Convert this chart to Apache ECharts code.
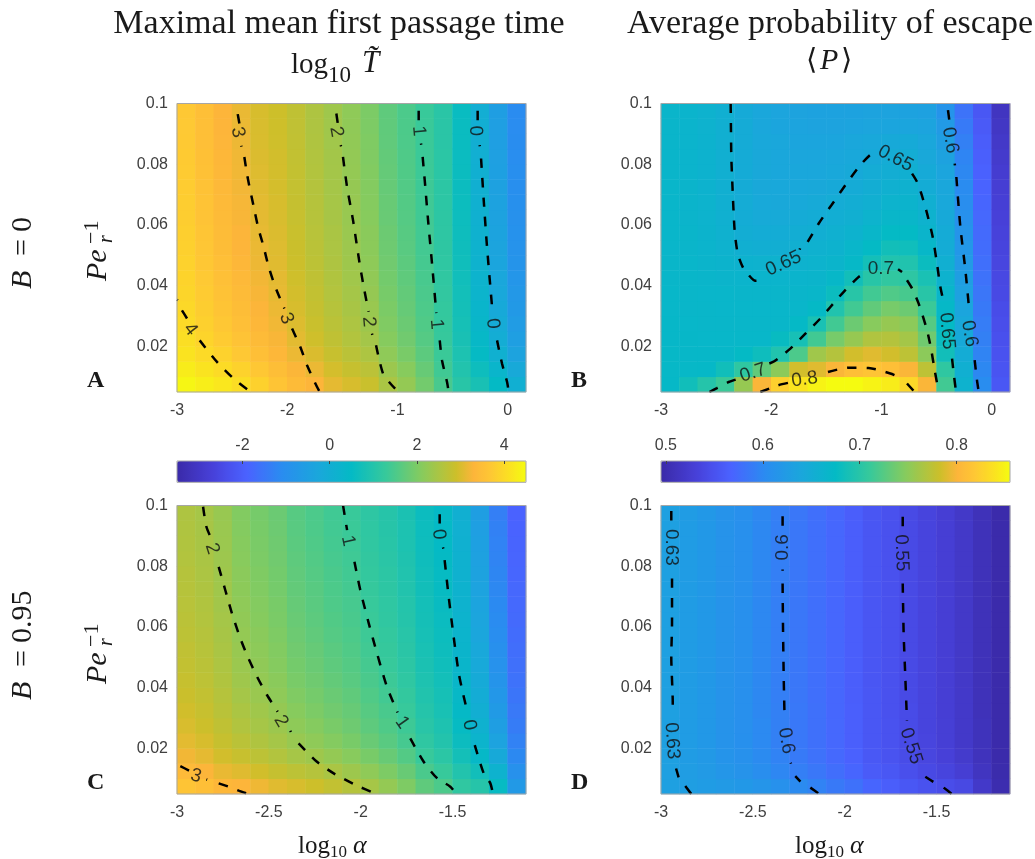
<!DOCTYPE html>
<html><head><meta charset="utf-8">
<style>html,body{margin:0;padding:0;background:#fff}#c{width:1035px;height:859px}</style>
<script src="https://cdn.jsdelivr.net/npm/echarts@6/dist/echarts.min.js"></script></head>
<body><div id="c"></div>
<script>
// Values. Rows run bottom to top, columns left to right.
const valuesA=[
[4.42,4.3,4.2,4.05,3.85,3.62,3.42,3.3,3.1,2.98,2.86,2.5,2.26,1.9,1.46,1.06,.82,.5,.05],
[4.28,4.14,4.02,3.87,3.68,3.48,3.28,3.15,2.96,2.82,2.69,2.34,2.11,1.78,1.38,.96,.66,.29,-.18],
[4.15,4,3.86,3.7,3.52,3.35,3.16,3.01,2.83,2.68,2.53,2.2,1.97,1.67,1.32,.88,.51,.1,-.39],
[4.06,3.9,3.75,3.6,3.42,3.26,3.08,2.92,2.74,2.59,2.43,2.1,1.88,1.6,1.27,.82,.41,-.03,-.53],
[4,3.84,3.68,3.52,3.35,3.2,3.03,2.86,2.68,2.53,2.36,2.04,1.82,1.55,1.24,.78,.34,-.11,-.62],
[3.96,3.79,3.62,3.47,3.29,3.16,2.98,2.81,2.64,2.48,2.31,1.99,1.77,1.52,1.22,.75,.3,-.17,-.69],
[3.92,3.75,3.58,3.42,3.25,3.12,2.95,2.78,2.6,2.44,2.27,1.95,1.74,1.49,1.2,.73,.25,-.22,-.74],
[3.89,3.71,3.53,3.38,3.21,3.09,2.92,2.74,2.57,2.4,2.22,1.91,1.7,1.46,1.18,.7,.21,-.28,-.8],
[3.86,3.68,3.5,3.34,3.17,3.06,2.89,2.71,2.54,2.37,2.19,1.88,1.67,1.43,1.16,.69,.18,-.32,-.85],
[3.84,3.65,3.47,3.31,3.15,3.04,2.87,2.68,2.52,2.35,2.16,1.85,1.64,1.41,1.15,.67,.16,-.35,-.88],
[3.82,3.63,3.44,3.29,3.12,3.02,2.85,2.66,2.5,2.32,2.14,1.83,1.62,1.4,1.14,.66,.13,-.38,-.92],
[3.79,3.6,3.42,3.26,3.09,2.99,2.83,2.64,2.47,2.3,2.11,1.8,1.6,1.38,1.13,.64,.11,-.41,-.95],
[3.78,3.59,3.4,3.24,3.08,2.98,2.81,2.62,2.46,2.29,2.09,1.79,1.58,1.37,1.12,.63,.09,-.43,-.97],
[3.76,3.57,3.38,3.22,3.06,2.96,2.8,2.61,2.44,2.27,2.08,1.77,1.57,1.35,1.11,.62,.07,-.46,-1],
[3.75,3.56,3.36,3.2,3.04,2.95,2.79,2.59,2.43,2.25,2.06,1.76,1.55,1.34,1.1,.61,.06,-.48,-1.02],
[3.74,3.54,3.35,3.19,3.02,2.94,2.77,2.58,2.42,2.24,2.04,1.74,1.54,1.33,1.1,.6,.04,-.5,-1.04],
[3.72,3.52,3.33,3.17,3,2.92,2.76,2.56,2.4,2.22,2.03,1.72,1.52,1.32,1.09,.59,.02,-.52,-1.07],
[3.71,3.51,3.31,3.15,2.99,2.91,2.75,2.55,2.39,2.21,2.01,1.71,1.51,1.31,1.09,.59,.01,-.53,-1.08],
[3.7,3.5,3.3,3.14,2.98,2.9,2.74,2.54,2.38,2.2,2,1.7,1.5,1.3,1.08,.58,0,-.55,-1.1]];
const valuesB=[
[.672,.684,.698,.712,.755,.8,.825,.84,.85,.855,.855,.85,.845,.83,.8,.715,.66,.605,.555],
[.671,.671,.672,.684,.705,.73,.75,.785,.79,.8,.81,.815,.81,.8,.775,.705,.655,.6,.552],
[.671,.67,.67,.67,.675,.682,.695,.72,.76,.77,.785,.79,.785,.775,.75,.685,.65,.596,.55],
[.67,.67,.669,.669,.669,.669,.678,.688,.715,.74,.755,.768,.77,.762,.737,.68,.645,.593,.548],
[.67,.669,.668,.668,.668,.668,.668,.673,.69,.715,.735,.748,.755,.75,.725,.675,.642,.59,.546],
[.669,.668,.668,.667,.667,.667,.667,.667,.673,.695,.715,.73,.74,.735,.712,.672,.638,.587,.544],
[.669,.668,.667,.667,.666,.666,.666,.666,.668,.68,.7,.715,.722,.718,.7,.668,.632,.584,.541],
[.668,.668,.666,.665,.664,.664,.664,.664,.665,.67,.685,.7,.706,.704,.69,.66,.628,.581,.539],
[.668,.667,.665,.663,.661,.66,.66,.66,.662,.665,.672,.686,.695,.695,.68,.655,.622,.578,.537],
[.667,.666,.664,.66,.656,.654,.654,.656,.658,.661,.667,.675,.685,.683,.67,.65,.618,.576,.535],
[.667,.666,.663,.658,.652,.65,.65,.652,.654,.657,.661,.668,.675,.675,.665,.648,.614,.574,.533],
[.667,.665,.662,.657,.65,.646,.646,.648,.65,.653,.656,.662,.668,.668,.66,.645,.61,.572,.531],
[.667,.665,.662,.656,.649,.644,.643,.644,.646,.649,.652,.656,.662,.663,.655,.642,.606,.57,.529],
[.667,.665,.661,.656,.648,.643,.642,.642,.643,.645,.648,.652,.657,.659,.65,.64,.603,.568,.527],
[.666,.664,.661,.655,.648,.643,.641,.64,.641,.642,.645,.649,.652,.655,.647,.637,.6,.566,.525],
[.666,.664,.661,.655,.648,.643,.64,.639,.639,.64,.642,.645,.649,.651,.643,.633,.597,.564,.522],
[.666,.664,.661,.655,.648,.642,.64,.638,.638,.638,.64,.642,.645,.647,.64,.628,.593,.562,.519],
[.666,.664,.66,.655,.648,.641,.638,.636,.635,.635,.636,.637,.638,.638,.636,.622,.588,.559,.516],
[.666,.664,.66,.655,.647,.64,.637,.635,.634,.634,.634,.635,.635,.634,.632,.614,.582,.555,.513]];
const valuesC=[
[3.62,3.5,3.34,3.3,3.18,3.06,2.98,2.9,2.78,2.62,2.46,2.26,2.02,1.7,1.5,1.18,1.02,.54,-.7],
[3.4,3.29,3.13,3.05,2.93,2.81,2.71,2.62,2.5,2.36,2.2,2.01,1.79,1.48,1.29,.96,.71,.16,-.94],
[3.21,3.1,2.94,2.83,2.71,2.59,2.46,2.37,2.25,2.12,1.96,1.79,1.58,1.29,1.1,.75,.43,-.17,-1.16],
[3.08,2.98,2.82,2.68,2.56,2.44,2.3,2.2,2.08,1.96,1.8,1.64,1.44,1.16,.98,.62,.24,-.4,-1.3],
[2.99,2.89,2.74,2.58,2.46,2.34,2.19,2.09,1.97,1.85,1.69,1.54,1.35,1.07,.9,.53,.12,-.55,-1.4],
[2.93,2.83,2.67,2.51,2.39,2.27,2.11,2,1.88,1.78,1.62,1.47,1.28,1.01,.83,.46,.02,-.66,-1.47],
[2.87,2.78,2.62,2.44,2.32,2.2,2.04,1.93,1.81,1.71,1.55,1.4,1.22,.95,.78,.41,-.06,-.76,-1.53],
[2.82,2.72,2.57,2.38,2.26,2.14,1.97,1.86,1.74,1.64,1.48,1.34,1.16,.9,.73,.35,-.13,-.85,-1.59],
[2.78,2.68,2.53,2.33,2.21,2.09,1.92,1.81,1.69,1.59,1.43,1.29,1.12,.86,.69,.31,-.2,-.93,-1.64],
[2.75,2.65,2.5,2.3,2.18,2.06,1.88,1.77,1.65,1.55,1.39,1.26,1.08,.83,.66,.27,-.24,-.98,-1.67],
[2.71,2.62,2.47,2.26,2.14,2.02,1.84,1.72,1.6,1.51,1.35,1.22,1.05,.79,.63,.24,-.29,-1.04,-1.71],
[2.68,2.59,2.44,2.22,2.1,1.98,1.8,1.68,1.56,1.47,1.31,1.18,1.01,.76,.6,.21,-.34,-1.1,-1.74],
[2.66,2.57,2.41,2.2,2.08,1.96,1.77,1.65,1.53,1.45,1.29,1.16,.99,.74,.57,.18,-.37,-1.13,-1.77],
[2.64,2.54,2.39,2.17,2.05,1.93,1.74,1.63,1.51,1.42,1.26,1.13,.96,.72,.55,.16,-.4,-1.17,-1.79],
[2.62,2.52,2.37,2.15,2.03,1.91,1.72,1.6,1.48,1.39,1.23,1.11,.94,.7,.53,.14,-.43,-1.21,-1.82],
[2.59,2.5,2.35,2.12,2,1.88,1.69,1.57,1.45,1.37,1.21,1.08,.92,.67,.51,.12,-.46,-1.25,-1.84],
[2.57,2.48,2.33,2.1,1.98,1.86,1.66,1.54,1.42,1.34,1.18,1.06,.89,.65,.49,.09,-.49,-1.28,-1.86],
[2.56,2.47,2.32,2.08,1.96,1.84,1.64,1.52,1.4,1.32,1.16,1.04,.88,.64,.48,.08,-.52,-1.31,-1.88],
[2.54,2.45,2.3,2.06,1.94,1.82,1.62,1.5,1.38,1.3,1.14,1.02,.86,.62,.46,.06,-.54,-1.34,-1.9]];
const valuesD=[
[.63,.628,.625,.622,.62,.615,.61,.602,.595,.587,.58,.57,.563,.555,.55,.545,.54,.52,.5],
[.63,.626,.622,.617,.613,.606,.599,.592,.585,.577,.57,.56,.555,.547,.541,.535,.527,.513,.498],
[.63,.625,.621,.614,.61,.602,.595,.588,.581,.573,.566,.556,.551,.544,.537,.531,.522,.51,.497],
[.63,.625,.62,.613,.609,.601,.593,.586,.579,.572,.564,.555,.55,.543,.536,.529,.52,.509,.497],
[.63,.625,.62,.613,.608,.601,.593,.586,.579,.572,.564,.555,.55,.543,.535,.529,.52,.509,.497],
[.63,.625,.62,.613,.608,.6,.593,.586,.579,.571,.564,.555,.549,.543,.535,.528,.52,.508,.497],
[.63,.625,.62,.613,.608,.6,.592,.585,.578,.571,.563,.555,.549,.542,.535,.528,.52,.508,.497],
[.63,.625,.62,.613,.608,.6,.592,.585,.578,.571,.563,.554,.549,.542,.535,.528,.519,.508,.497],
[.63,.625,.62,.613,.608,.6,.592,.585,.578,.571,.563,.554,.549,.542,.535,.528,.519,.508,.497],
[.63,.625,.62,.613,.608,.6,.592,.585,.578,.571,.563,.554,.549,.542,.535,.528,.519,.508,.497],
[.63,.625,.62,.613,.608,.6,.592,.585,.578,.571,.563,.554,.549,.542,.535,.528,.519,.508,.497],
[.63,.625,.62,.613,.608,.6,.592,.585,.578,.571,.563,.554,.549,.542,.535,.528,.519,.508,.497],
[.63,.625,.62,.613,.608,.6,.592,.585,.578,.571,.563,.554,.549,.542,.535,.528,.519,.508,.497],
[.63,.625,.62,.613,.608,.6,.592,.585,.578,.571,.563,.554,.549,.542,.535,.528,.519,.508,.497],
[.63,.625,.62,.613,.608,.6,.592,.585,.578,.571,.563,.554,.549,.542,.535,.528,.519,.508,.497],
[.63,.625,.62,.613,.608,.6,.592,.585,.578,.571,.563,.554,.549,.542,.535,.528,.519,.508,.497],
[.63,.625,.62,.613,.608,.6,.592,.585,.578,.571,.563,.554,.549,.542,.535,.528,.519,.508,.497],
[.63,.625,.62,.613,.608,.6,.592,.585,.578,.571,.563,.554,.549,.542,.535,.528,.519,.508,.497],
[.63,.625,.62,.613,.608,.6,.592,.585,.578,.571,.563,.554,.549,.542,.535,.528,.519,.508,.497]];

// Contour levels: each level is a list of dashed runs broken around its labels.
const contoursA=[
 [[[-2.449,.0965],[-2.434,.0934]],[[-2.416,.0861],[-2.414,.0858]],[[-2.389,.0824],[-2.359,.0756],[-2.304,.066],[-2.265,.0594],[-2.214,.0528],[-2.168,.0462],[-2.108,.0396],[-2.026,.0325]],[[-1.956,.0259],[-1.881,.0198],[-1.82,.0138],[-1.73,.0067],[-1.705,.005]]],
 [[[-1.554,.0967],[-1.542,.0936]],[[-1.515,.0863],[-1.511,.0859]],[[-1.494,.0824],[-1.457,.0725],[-1.403,.0616],[-1.345,.0478],[-1.3,.0385],[-1.261,.0314]],[[-1.231,.0242],[-1.227,.0238]],[[-1.194,.0204],[-1.131,.0111],[-1.064,.0078],[-.989,.005]]],
 [[[-.807,.0976],[-.807,.094]],[[-.786,.0868],[-.784,.0864]],[[-.771,.0824],[-.747,.0725],[-.722,.0616],[-.686,.0473],[-.647,.031]],[[-.616,.022],[-.595,.0154],[-.55,.0083],[-.535,.005]]],
 [[[-.272,.0976],[-.272,.0945]],[[-.254,.0863],[-.252,.0859]],[[-.241,.0819],[-.217,.0682],[-.187,.0528],[-.136,.0308]],[[-.096,.022],[-.051,.0144],[-.005,.0083],[.01,.005]]],
 [[[-3,.0354],[-2.992,.0352]],[[-2.955,.0319],[-2.909,.0292]],[[-2.794,.022],[-2.637,.0149],[-2.486,.0094],[-2.329,.005]]]];
const labelsA=[[-2.449,.0905,'3',-78],[-2.008,.0292,'3',-68],[-1.554,.0907,'2',-80],[-1.261,.0281,'2',-85],[-.807,.0909,'1',-85],[-.647,.0273,'1',-85],[-.293,.091,'0',-88],[-.136,.0275,'0',-85],[-2.879,.0256,'4',-52]];
const contoursB=[
 [[[-2.368,.1],[-2.365,.0912],[-2.362,.0824],[-2.35,.0714],[-2.332,.0583],[-2.304,.0506],[-2.259,.0462],[-2.204,.0435],[-2.144,.0416],[-2.059,.042]],[[-1.742,.0519],[-1.738,.0523]],[[-1.669,.0544],[-1.569,.0605],[-1.454,.0665],[-1.327,.0731],[-1.206,.0791],[-1.11,.0828],[-1.04,.0843]],[[-.722,.0769],[-.677,.0742],[-.638,.0703],[-.586,.0638],[-.535,.0561],[-.496,.0473],[-.465,.0396],[-.429,.0336]],[[-.359,.016],[-.344,.0111],[-.323,.005]]],
 [[[-.396,.0978],[-.384,.0945]],[[-.335,.0802],[-.333,.0796]],[[-.32,.0758],[-.284,.0594],[-.238,.0451],[-.202,.0314]],[[-.154,.0155],[-.133,.0089],[-.117,.005]]],
 [[[-2.561,.005],[-2.492,.0063],[-2.386,.0083],[-2.295,.0094]],[[-2.017,.0144],[-1.972,.0151],[-1.826,.0193],[-1.69,.0242],[-1.554,.0292],[-1.463,.033],[-1.342,.038],[-1.206,.0429],[-1.146,.0442]],[[-.849,.0454],[-.813,.0445]],[[-.768,.0418],[-.722,.0391],[-.662,.0341],[-.586,.0253],[-.547,.0187],[-.517,.0122],[-.48,.005]]],
 [[[-2.099,.005],[-1.938,.0072],[-1.848,.008]],[[-1.485,.0116],[-1.297,.013],[-1.116,.0129],[-.919,.0111],[-.828,.0097]],[[-.768,.0078],[-.698,.005]]]];
const labelsB=[[-1.887,.0473,'0.65',25],[-.873,.0819,'0.65',-28],[-.405,.0251,'0.65',-85],[-.375,.0879,'0.6',-80],[-.202,.0242,'0.6',-80],[-2.165,.0113,'0.7',18],[-1.004,.0456,'0.7',0],[-1.696,.0091,'0.8',8]];
const contoursC=[
 [[[-2.858,.0996],[-2.84,.093],[-2.813,.0891]],[[-2.773,.0798],[-2.737,.0721],[-2.701,.0645],[-2.655,.0562],[-2.615,.0502],[-2.564,.0436],[-2.51,.0376],[-2.452,.0321]],[[-2.383,.0258],[-2.38,.0254]],[[-2.338,.0217],[-2.238,.0156],[-2.147,.0118],[-2.029,.008],[-1.915,.005]]],
 [[[-2.096,.1],[-2.074,.0919]],[[-2.047,.085],[-2.046,.0848]],[[-2.034,.0815],[-2.002,.0721],[-1.956,.0612],[-1.911,.0513],[-1.857,.0403],[-1.799,.0318]],[[-1.73,.0233],[-1.657,.0156],[-1.584,.0102],[-1.512,.0074],[-1.479,.005]]],
 [[[-1.57,.0971],[-1.57,.0941]],[[-1.552,.0862],[-1.55,.0858]],[[-1.543,.082],[-1.521,.07],[-1.494,.0568],[-1.466,.0447],[-1.443,.0381],[-1.416,.0313]],[[-1.379,.0211],[-1.33,.0118],[-1.294,.0085],[-1.28,.005]]],
 [[[-2.982,.0142],[-2.931,.0126]],[[-2.84,.0098],[-2.836,.0097]],[[-2.773,.0085],[-2.719,.0074],[-2.664,.0061],[-2.613,.005]]]];
const labelsC=[[-2.809,.0858,'2',-72],[-2.434,.029,'2',-60],[-2.069,.0884,'1',-78],[-1.775,.0285,'1',-55],[-1.575,.0905,'0',-85],[-1.408,.0277,'0',-80],[-2.897,.0109,'3',-15]];
const contoursD=[
 [[[-2.944,.0982],[-2.944,.0946]],[[-2.94,.076],[-2.94,.0612],[-2.944,.0502],[-2.936,.0348],[-2.936,.0313]],[[-2.918,.0134],[-2.904,.0105]],[[-2.868,.0076],[-2.835,.005]]],
 [[[-2.338,.0965],[-2.338,.0932]],[[-2.338,.0789],[-2.338,.0785]],[[-2.338,.0743],[-2.336,.0612],[-2.332,.0436],[-2.327,.0293]],[[-2.294,.0153],[-2.292,.015]],[[-2.269,.0109],[-2.241,.0091]],[[-2.187,.0071],[-2.138,.005]]],
 [[[-1.684,.0963],[-1.684,.093]],[[-1.684,.0743],[-1.679,.0579],[-1.67,.0436],[-1.661,.0291]],[[-1.561,.0107],[-1.51,.0087]],[[-1.461,.0071],[-1.416,.005]]]];
const labelsD=[[-2.946,.0862,'0.63',-90],[-2.94,.0225,'0.63',-86],[-2.338,.0862,'0.6',90],[-2.319,.0225,'0.6',-80],[-1.691,.0844,'0.55',-88],[-1.639,.0208,'0.55',-72]];

const yTicks=[0.02,0.04,0.06,0.08,0.1];
const xTicksTop=[-3,-2,-1,0];
const xTicksBottom=[-3,-2.5,-2,-1.5];
const barTicksT=[-2,0,2,4];
const barTicksP=[0.5,0.6,0.7,0.8];
const rangeT=[-3.5,4.5];
const rangeP=[0.495,0.855];
const xRangeTop=[-3,0.1667];
const xRangeBottom=[-3,-1.1];
const yRange=[0.005,0.1];
const parula=['#3a2aa8','#4135c0','#4740d8','#4951ee','#4a62ff','#3a77f8','#2a8cf0','#2299e6','#1ba6dc','#10b0d0','#04bac5','#1ec2b0','#38c99a','#5fca7c','#86cb5e','#aac544','#cdbf2a','#fdb53a','#fec834','#fbe022','#f5fb10'];

const sans='"Liberation Sans"', serif='"Liberation Serif"';
const cols=19, panels=[
 {m:valuesA,c:contoursA,l:labelsA,left:177,top:103.5,xr:xRangeTop,xt:xTicksTop},
 {m:valuesB,c:contoursB,l:labelsB,left:661,top:103.5,xr:xRangeTop,xt:xTicksTop},
 {m:valuesC,c:contoursC,l:labelsC,left:177,top:505.5,xr:xRangeBottom,xt:xTicksBottom},
 {m:valuesD,c:contoursD,l:labelsD,left:661,top:505.5,xr:xRangeBottom,xt:xTicksBottom}];
const W=349,H=288.5;
const grid=[],xAxis=[],yAxis=[],heat=[],lines=[],labs=[];
const cats=Array.from({length:cols},(_,i)=>i);
const lab={fontFamily:sans,fontSize:16,color:'#404040'};
panels.forEach((p,k)=>{
 grid.push({left:p.left,top:p.top,width:W,height:H,show:true,z:10,backgroundColor:'transparent',borderColor:'#a6a6a6',borderWidth:1});
 xAxis.push({type:'value',gridIndex:k,min:p.xr[0],max:p.xr[1],position:'bottom',splitLine:{show:false},axisLine:{show:false,onZero:false},axisTick:{show:false},axisLabel:{...lab,margin:11,customValues:p.xt}},
            {type:'category',gridIndex:k,data:cats,show:false});
 yAxis.push({type:'value',gridIndex:k,min:yRange[0],max:yRange[1],position:'left',splitLine:{show:false},axisLine:{show:false,onZero:false},axisTick:{show:false},axisLabel:{...lab,margin:9,customValues:yTicks}},
            {type:'category',gridIndex:k,data:cats,show:false});
 const data=[];
 p.m.forEach((row,r)=>row.forEach((v,c)=>data.push([c,r,v])));
 heat.push({type:'heatmap',xAxisIndex:2*k+1,yAxisIndex:2*k+1,data,silent:true,itemStyle:{borderWidth:0},emphasis:{disabled:true},z:1});
 p.c.forEach(level=>level.forEach(seg=>lines.push({type:'line',xAxisIndex:2*k,yAxisIndex:2*k,data:seg,symbol:'none',smooth:0.25,silent:true,z:4,
   lineStyle:{color:'#000',width:2.5,type:[9.5,10],cap:'butt'}})));
 labs.push({type:'scatter',xAxisIndex:2*k,yAxisIndex:2*k,symbolSize:1,itemStyle:{color:'rgba(0,0,0,0)'},silent:true,z:5,
   data:p.l.map(d=>({value:[d[0],d[1]],label:{show:true,position:'inside',formatter:d[2],rotate:d[3],fontFamily:sans,fontSize:19,color:'#111'}}))});
});
// colour bars: gradient from visualMap, tick axis from a grid on top of it
const barTop=461,barH=21.3;
[[177,rangeT,barTicksT],[661,rangeP,barTicksP]].forEach(([left,rng,ticks],i)=>{
 const g=4+i;
 grid.push({left,top:barTop,width:W,height:barH,show:true,z:10,backgroundColor:'transparent',borderColor:'#a6a6a6',borderWidth:1});
 xAxis.push({type:'value',gridIndex:g,min:rng[0],max:rng[1],position:'top',z:11,splitLine:{show:false},axisLine:{show:false,onZero:false},
   axisTick:{show:true,inside:true,length:3,lineStyle:{color:'#444',width:1},customValues:ticks},axisLabel:{...lab,margin:7,customValues:ticks}});
 yAxis.push({type:'value',gridIndex:g,min:0,max:1,show:false});
});
const visualMap=[[0,rangeT,[0,2],177],[1,rangeP,[1,3],661]].map(([i,r,s,left])=>({type:'continuous',min:r[0],max:r[1],seriesIndex:s,dimension:2,orient:'horizontal',left,top:barTop,
  padding:0,itemWidth:barH,itemHeight:W,text:null,calculable:false,realtime:false,hoverLink:false,inRange:{color:parula},textStyle:{color:'transparent'},z:3}));

const math=[];
function t(text,x,y,size,o={}){math.push({type:'text',x,y,rotation:o.rot||0,silent:true,z:20,style:{text,fontFamily:o.family||serif,fontSize:size,fontStyle:o.italic?'italic':'normal',fontWeight:o.bold?'bold':'normal',fill:'#1a1a1a',textAlign:o.align||'left',textVerticalAlign:'middle'}});}
const R=Math.PI/2;
// header formulae
t('log',291,65,29); t('10',328,76,23); t('T\u0303',362,64,31,{italic:true});
t('\u27E8',806,61,29,{family:'"DejaVu Serif"'}); t('P',820,61,30,{italic:true}); t('\u27E9',841,61,29,{family:'"DejaVu Serif"'});
// row captions
t('B',23,289,30,{rot:R,italic:true}); t('=',23,256,30,{rot:R}); t('0',23,232,30,{rot:R});
t('B',23,700,30,{rot:R,italic:true}); t('=',23,667,30,{rot:R}); t('0.95',23,643,30,{rot:R});
// y names
[281,684].forEach(y0=>{t('Pe',98,y0,30,{rot:R,italic:true}); t('r',107,y0-38,20,{rot:R,italic:true}); t('\u22121',92,y0-37,22,{rot:R});});
// x names
[[298],[795]].forEach(([x])=>{t('log',x,846,25); t('10',x+32,853,17); t('\u03B1',x+55,846,26,{italic:true});});
// panel letters
[['A',87,381],['B',571,381],['C',87,783],['D',571,783]].forEach(a=>t(a[0],a[1],a[2],24,{bold:true}));

const chart=echarts.init(document.getElementById('c'),null,{renderer:'canvas'});
chart.setOption({animation:false,backgroundColor:'#fff',
 title:[{text:'Maximal mean first passage time',left:339,top:7,textAlign:'center',padding:0,textStyle:{fontFamily:serif,fontWeight:'normal',fontSize:34,color:'#1a1a1a'}},
        {text:'Average probability of escape',left:830,top:7,textAlign:'center',padding:0,textStyle:{fontFamily:serif,fontWeight:'normal',fontSize:34,color:'#1a1a1a'}}],
 grid,xAxis,yAxis,visualMap,graphic:math,series:[...heat,...lines,...labs]});
</script></body></html>
